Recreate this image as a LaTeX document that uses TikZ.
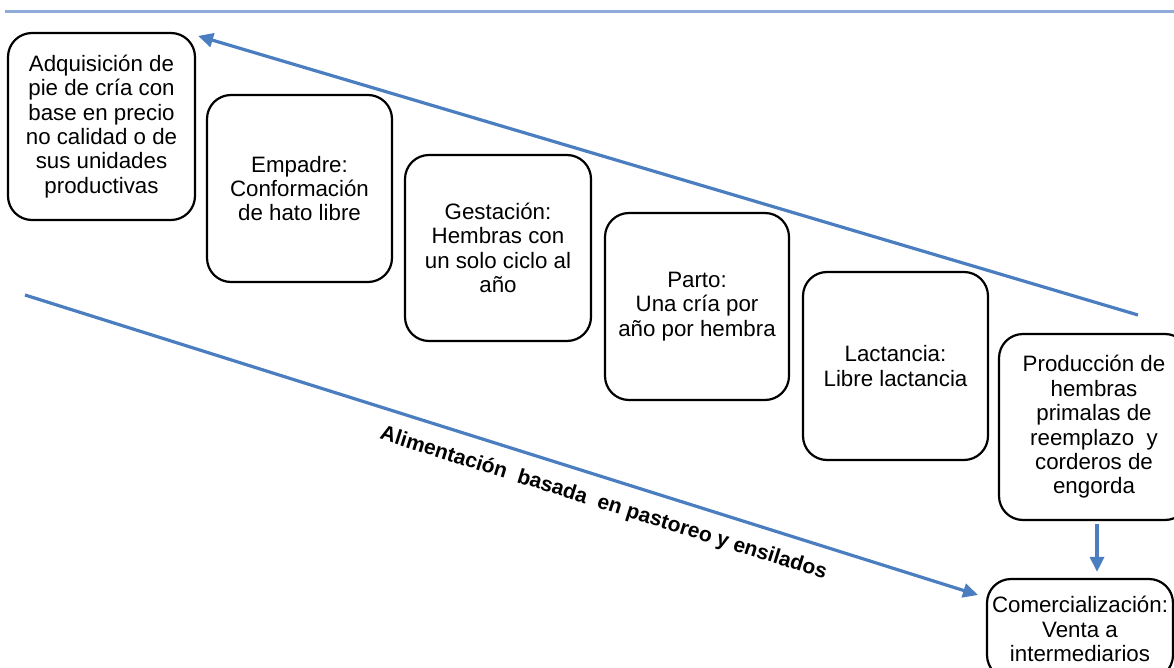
\documentclass[tikz,border=0pt]{standalone}
\usepackage{fontspec}
\setmainfont{Liberation Sans}
\usetikzlibrary{arrows.meta,calc}
\definecolor{arrowblue}{RGB}{74,126,193}
\definecolor{rulecol}{RGB}{143,172,216}
\begin{document}
\begin{tikzpicture}[x=1pt,y=-1pt,
  box/.style={draw, line width=2.2pt, rounded corners=24pt, align=center,
    font=\fontsize{22.3}{24.4}\selectfont, inner sep=0pt},
  flow/.style={draw=arrowblue, line width=3.2pt, -{Triangle[length=15pt,width=14pt]}},
  lbl/.style={font=\bfseries\fontsize{21}{22}\selectfont, inner sep=0pt}]
\useasboundingbox (0,0) rectangle (1174,668);
% top rule
\coordinate (r1) at (5,11.5);
\coordinate (r2) at (1176,11.5);
\draw[rulecol, line width=3.5pt] (r1) -- (r2);
% boxes
\node[box, minimum width=187pt, minimum height=187pt] (b1) at (101.5,126.5)
  {Adquisición de\\pie de cría con\\base en precio\\no calidad o de\\sus unidades\\productivas};
\node[box, minimum width=185pt, minimum height=187pt] (b2) at (299.5,188.5)
  {Empadre:\\Conformación\\de hato libre};
\node[box, minimum width=186pt, minimum height=186pt] (b3) at (498,248)
  {Gestación:\\Hembras con\\un solo ciclo al\\año};
\node[box, minimum width=184pt, minimum height=187pt] (b4) at (697,306.5)
  {Parto:\\Una cría por\\año por hembra};
\node[box, minimum width=185pt, minimum height=188pt] (b5) at (895.5,366)
  {Lactancia:\\Libre lactancia};
\node[box, minimum width=190pt, minimum height=186pt] (b6) at (1094,427)
  {Producción de\\hembras\\primalas de\\reemplazo~ y\\corderos de\\engorda};
\node[box, minimum width=186pt, minimum height=100pt] (b7) at (1080,629)
  {Comercialización:\\Venta a\\intermediarios};
% arrows
\coordinate (t1) at (1138,315);
\draw[flow] (t1) -- ([shift={(2,4)}]b1.north east);
\coordinate (s2) at (25,295);
\coordinate (e2) at (978,595);
\draw[flow] (s2) -- node[lbl, sloped, below=14pt, pos=0.615]
  {Alimentación\ \ basada\ \ en pastoreo y ensilados} (e2);
\draw[flow, shorten <=3pt, shorten >=6pt] ([xshift=3pt]b6.south) -- ([xshift=3pt]b6.south |- b7.north);
\end{tikzpicture}
\end{document}
